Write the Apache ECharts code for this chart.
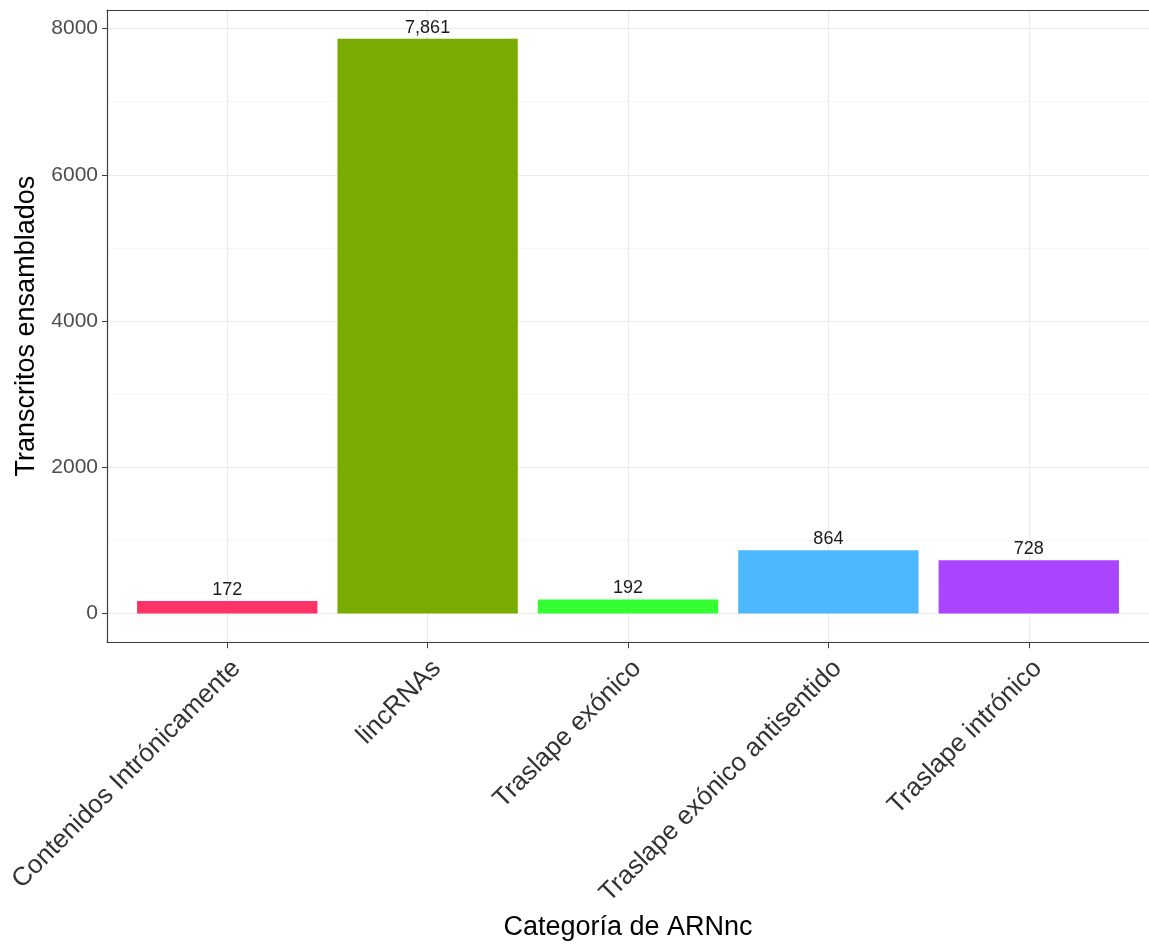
<!DOCTYPE html>
<html>
<head>
<meta charset="utf-8">
<script src="https://cdn.jsdelivr.net/npm/echarts@6/dist/echarts.min.js"></script>
<style>
  html, body { margin: 0; padding: 0; background: #ffffff; overflow: hidden; }
  #chart { width: 1149px; height: 946px; }
</style>
</head>
<body>
<div id="chart"></div>
<script>
// ncRNA categories and the number of assembled transcripts in each
const categories = [
  'Contenidos Intrónicamente',
  'lincRNAs',
  'Traslape exónico',
  'Traslape exónico antisentido',
  'Traslape intrónico'
];
const transcripts = [172, 7861, 192, 864, 728];
const barColors = ['#FF3366', '#7AAB00', '#33FF33', '#4DB8FF', '#AA44FF'];
const yTicks = [0, 2000, 4000, 6000, 8000];
const yMinorTicks = [1000, 3000, 5000, 7000];

// category positions on a numeric axis (1..n), padded like a discrete scale
const positions = categories.map((_, i) => i + 1);
const xPad = 0.6;
const yMax = Math.max(...transcripts);
const yPad = yMax * 0.05;

const font = "'Liberation Sans', Arial, Helvetica, sans-serif";
const frameColor = '#3d3d3d';

const chart = echarts.init(document.getElementById('chart'), null, { renderer: 'canvas' });

chart.setOption({
  animation: false,
  backgroundColor: '#ffffff',
  textStyle: { fontFamily: font },
  grid: { left: 107, top: 10, height: 635, right: -7, containLabel: false },
  xAxis: [
    {
      type: 'value',
      min: positions[0] - xPad,
      max: positions[positions.length - 1] + xPad,
      name: 'Categoría de ARNnc',
      nameLocation: 'middle',
      nameGap: 271,
      nameTextStyle: { fontSize: 27, color: '#000000', fontFamily: font },
      axisLine: { show: true, onZero: false, lineStyle: { color: frameColor, width: 1.2 } },
      axisTick: { show: true, length: 6, customValues: positions, lineStyle: { color: frameColor } },
      axisLabel: {
        customValues: positions,
        formatter: v => categories[Math.round(v) - 1] || '',
        rotate: 45,
        align: 'right',
        verticalAlign: 'top',
        margin: 13,
        fontSize: 26,
        color: '#333333',
        fontFamily: font
      },
      splitLine: { show: true, lineStyle: { color: '#ebebeb', width: 1.1 } }
    },
    {
      // top edge of the panel frame
      type: 'value',
      position: 'top',
      min: positions[0] - xPad,
      max: positions[positions.length - 1] + xPad,
      axisLine: { show: true, onZero: false, lineStyle: { color: frameColor, width: 1.2 } },
      axisTick: { show: false },
      axisLabel: { show: false },
      splitLine: { show: false }
    }
  ],
  yAxis: [
    {
      type: 'value',
      min: -yPad,
      max: yMax + yPad,
      name: 'Transcritos ensamblados',
      nameLocation: 'middle',
      nameGap: 56,
      nameRotate: 90,
      nameTextStyle: { fontSize: 27, color: '#000000', fontFamily: font },
      axisLine: { show: true, onZero: false, lineStyle: { color: frameColor, width: 1.2 } },
      axisTick: { show: true, length: 5, customValues: yTicks, lineStyle: { color: frameColor } },
      axisLabel: {
        customValues: yTicks,
        formatter: v => String(v),
        margin: 9,
        fontSize: 21,
        color: '#4d4d4d',
        fontFamily: font
      },
      splitLine: { show: true, lineStyle: { color: '#ebebeb', width: 1.1 } }
    },
    {
      // minor horizontal gridlines
      type: 'value',
      position: 'right',
      min: -yPad,
      max: yMax + yPad,
      axisLine: { show: false },
      axisTick: { show: false, customValues: yMinorTicks },
      axisLabel: { show: false, customValues: yMinorTicks },
      splitLine: { show: true, lineStyle: { color: '#f2f2f2', width: 0.8 } }
    }
  ],
  series: [
    {
      type: 'bar',
      xAxisIndex: 0,
      yAxisIndex: 0,
      barWidth: '90%',
      data: transcripts.map((v, i) => ({
        value: [positions[i], v],
        itemStyle: { color: barColors[i] }
      })),
      label: {
        show: true,
        position: 'top',
        distance: 2,
        formatter: p => p.value[1].toLocaleString('en-US'),
        fontSize: 18,
        color: '#1a1a1a',
        fontFamily: font
      },
      z: 3
    }
  ]
});
</script>
</body>
</html>
